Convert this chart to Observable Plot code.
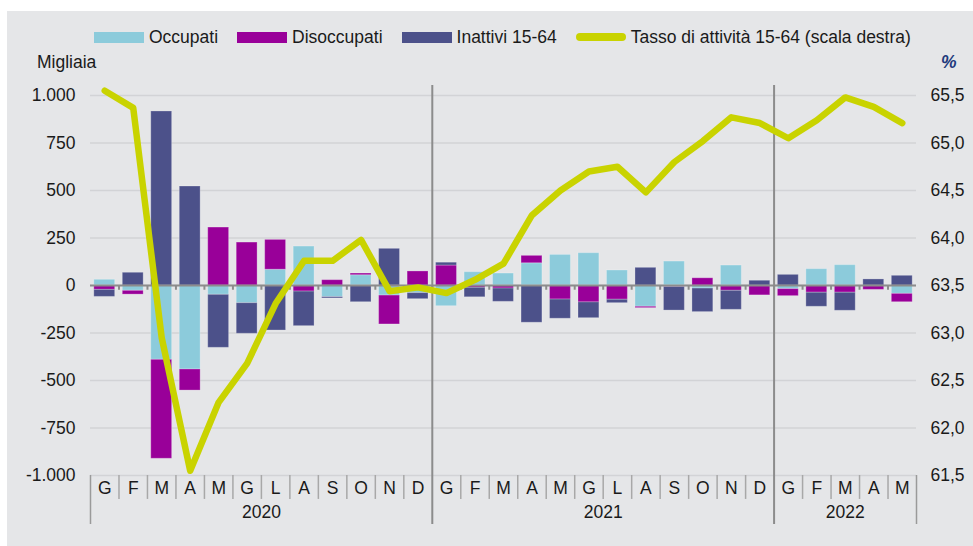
<!DOCTYPE html>
<html><head><meta charset="utf-8">
<script src="https://cdn.jsdelivr.net/npm/d3@7"></script>
<script src="https://cdn.jsdelivr.net/npm/@observablehq/plot@0.6"></script>
<style>
html,body{margin:0;padding:0;background:#fff;}
#wrap{position:relative;width:973px;height:546px;overflow:hidden;font-family:"Liberation Sans",Arial,sans-serif;color:#1a1a1a;}
#bg{position:absolute;left:7px;top:11px;right:0;bottom:0;background:#e5e6e8;}
#chart{position:absolute;left:0;top:0;}
#legend{position:absolute;left:94px;top:27px;height:20px;display:flex;align-items:center;font-size:17.5px;white-space:nowrap;}
.item{display:flex;align-items:center;margin-right:19px;}
.sw{width:50px;height:11px;margin-right:5px;}
.ln{width:50px;height:8px;border-radius:4px;margin-right:5px;}
.lab{position:absolute;font-size:17.5px;line-height:20px;}
</style></head>
<body><div id="wrap"><div id="bg"></div><div id="chart"></div><div id="legend"></div>
<div class="lab" style="left:37px;top:52px">Migliaia</div>
<div class="lab" style="left:941px;top:52px;color:#1f3b7d;font-weight:bold;font-style:italic">%</div>
</div>
<script>
// ---- data ----
const months = ["G","F","M","A","M","G","L","A","S","O","N","D",
                "G","F","M","A","M","G","L","A","S","O","N","D",
                "G","F","M","A","M"];
const years = ["2020","2021","2022"];
const monthsPerYear = [12, 12, 5];
const seriesNames = ["Occupati","Disoccupati","Inattivi 15-64"];
const seriesColors = ["#8ccbdb","#990099","#4c518a"];
const occupati    = [30,-28,-391,-442,-49,-93,83,205,-61,54,-53,-40,
                     -109,70,63,117,161,170,79,-112,126,-16,105,-2,
                     -19,86,107,-3,-44];
const disoccupati = [-23,-20,-521,-111,305,226,157,-32,28,9,-152,74,
                     105,-12,-16,39,-74,-89,-75,-7,-8,38,-28,-50,
                     -37,-38,-38,-20,-44];
const inattivi    = [-37,67,916,521,-279,-161,-237,-182,-7,-88,193,-32,
                     15,-50,-70,-196,-101,-83,-18,93,-124,-124,-100,25,
                     56,-74,-95,32,51];
const lineName = "Tasso di attività 15-64 (scala destra)";
const lineColor = "#c9d300";
const tasso = [65.55,65.37,62.95,61.55,62.27,62.68,63.31,63.76,63.76,63.98,63.44,63.48,
               63.42,63.56,63.73,64.24,64.50,64.70,64.75,64.48,64.80,65.02,65.27,65.21,
               65.05,65.24,65.48,65.38,65.21];
const yTicks = [-1000,-750,-500,-250,0,250,500,750,1000];
const rateTicks = [61.5,62,62.5,63,63.5,64,64.5,65,65.5];

// ---- helpers ----
const rateMid = (rateTicks[0] + rateTicks[rateTicks.length-1]) / 2;
const rateK = (yTicks[yTicks.length-1] - yTicks[0]) / (rateTicks[rateTicks.length-1] - rateTicks[0]);
const toY = r => (r - rateMid) * rateK;
const loc = d3.formatLocale({decimal: ",", thousands: ".", grouping: [3], currency: ["", "€"], minus: "-"});
const fmtK = loc.format(",d");
const fmtR = loc.format(".1f");

const seriesValues = [occupati, disoccupati, inattivi];
const bars = seriesNames.flatMap((s, k) => seriesValues[k].map((v, i) => ({i, series: s, value: v})));
const lineData = tasso.map((r, i) => ({i, r}));
const yearStart = monthsPerYear.map((n, k) => d3.sum(monthsPerYear.slice(0, k)));
const nMonths = months.length;
const boundaries = d3.range(1, nMonths);
const yearInner = yearStart.slice(1);
const monthSeps = boundaries.filter(b => !yearInner.includes(b));

// ---- legend ----
const legend = document.getElementById("legend");
seriesNames.forEach((s, k) => {
  legend.insertAdjacentHTML("beforeend", `<div class="item"><div class="sw" style="background:${seriesColors[k]}"></div><span>${s}</span></div>`);
});
legend.insertAdjacentHTML("beforeend", `<div class="item"><div class="ln" style="background:${lineColor}"></div><span>${lineName}</span></div>`);

const plot = Plot.plot({
  width: 973, height: 546,
  marginLeft: 90, marginRight: 57, marginTop: 95, marginBottom: 71,
  style: {background: "transparent", fontFamily: "Liberation Sans, Arial, sans-serif", fontSize: "17.5px", color: "#1a1a1a", overflow: "visible"},
  x: {type: "linear", domain: [0, nMonths], axis: null},
  y: {domain: [yTicks[0], yTicks[yTicks.length-1]], axis: null},
  color: {domain: seriesNames, range: seriesColors},
  marks: [
    Plot.ruleY(yTicks, {stroke: "#d2d3d6", strokeWidth: 1.5}),
    Plot.ruleX(boundaries, {y1: 0, y2: -25, stroke: "#8c8c8c", strokeWidth: 2}),
    Plot.rectY(bars, {x: "i", interval: 1, y: "value", fill: "series", insetLeft: 3.8, insetRight: 3.8, stroke: "#ffffff", strokeOpacity: 0.25, strokeWidth: 1}),
    Plot.ruleY([0], {stroke: "#8c8c8c", strokeWidth: 2}),
    Plot.ruleX(yearInner, {y1: 1053, y2: -1258, stroke: "#8c8c8c", strokeWidth: 2}),
    Plot.ruleX([0, nMonths], {y1: yTicks[0], y2: -1258, stroke: "#9a9a9a", strokeWidth: 1.5}),
    Plot.ruleX(monthSeps, {y1: yTicks[0], y2: -1126, stroke: "#a8a8a8", strokeWidth: 1.5}),
    Plot.line(lineData, {x: d => d.i + 0.5, y: d => toY(d.r), stroke: lineColor, strokeWidth: 6.5, strokeLinejoin: "round", strokeLinecap: "round"}),
    Plot.text(months, {x: (d, i) => i + 0.5, y: yTicks[0], dy: 13, text: d => d, fill: "#1a1a1a"}),
    Plot.text(years, {x: (d, k) => yearStart[k] + monthsPerYear[k] / 2, y: yTicks[0], dy: 37, text: d => d, fill: "#1a1a1a"}),
    Plot.axisY(yTicks, {anchor: "left", tickSize: 0, tickPadding: 15, tickFormat: d => fmtK(d), label: null}),
    Plot.axisY(rateTicks.map(toY), {anchor: "right", tickSize: 0, tickPadding: 14, tickFormat: d => fmtR(d / rateK + rateMid), label: null})
  ]
});
document.getElementById("chart").appendChild(plot);
</script>
</body></html>
